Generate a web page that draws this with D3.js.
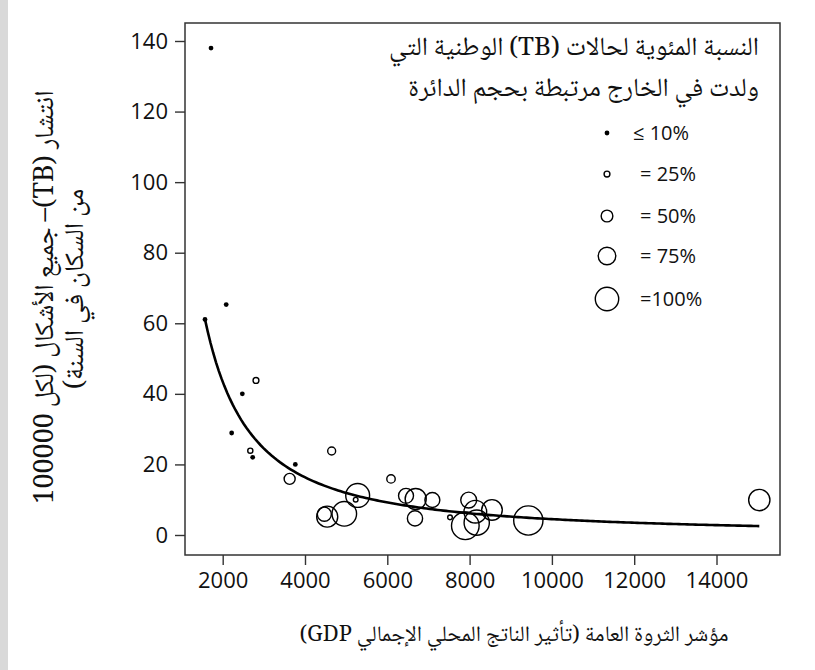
<!DOCTYPE html>
<html>
<head>
<meta charset="utf-8">
<script src="https://cdn.jsdelivr.net/npm/d3@7"></script>
<style>
  html, body { margin: 0; padding: 0; background: #fff; }
  svg { display: block; }
  .num { font-family: "Open Sans", "Noto Sans", "DejaVu Sans", sans-serif; }
  .ar { font-family: "Noto Naskh Arabic", "Noto Sans Arabic", "DejaVu Sans", serif; }
</style>
</head>
<body>
<script>
// GDP per capita, TB prevalence per 100 000, and share of foreign-born cases (%)
const gdp        = [1716, 2085, 1570, 2477, 2218, 2729, 3765, 2809, 2671, 5232, 7524,
                    3627, 4648, 6090, 5280, 4955, 4470, 4540, 6455, 6690, 7095, 6673,
                    7978, 7896, 8139, 8173, 8544, 9427, 15040];
const prevalence = [138, 65.3, 61.1, 40, 28.9, 22, 20, 43.8, 23.9, 10, 5,
                    15.9, 23.8, 15.9, 11.2, 6.0, 5.9, 5.2, 11.1, 10.2, 9.9, 4.7,
                    9.9, 2.6, 6.6, 3.5, 7.1, 4.1, 9.9];
const foreignPct = [5, 5, 5, 5, 5, 5, 5, 25, 22, 20, 20,
                    47, 34, 36, 102, 105, 60, 90, 64, 90, 64, 65,
                    68, 118, 97, 108, 88, 125, 91];

// Fitted power curve: prevalence = fitA * gdp ^ fitB
const fitA = 1.96e6;
const fitB = -1.41;

const xTicks = [2000, 4000, 6000, 8000, 10000, 12000, 14000];
const yTicks = [0, 20, 40, 60, 80, 100, 120, 140];

const legendPct    = [10, 25, 50, 75, 100];
const legendLabels = ["≤ 10%", "= 25%", "= 50%", "= 75%", "=100%"];
const legendTitle  = ["النسبة المئوية لحالات (TB) الوطنية التي",
                      "ولدت في الخارج مرتبطة بحجم الدائرة"];
const xTitle  = "مؤشر الثروة العامة (تأثير الناتج المحلي الإجمالي GDP)";
const yTitle  = ["انتشار (TB)– جميع الأشكال (لكل 100000",
                 "من السكان في السنة)"];

const W = 815, H = 670;
const plot = { left: 185, right: 780, top: 23, bottom: 555 };

const svg = d3.select("body").append("svg")
  .attr("width", W).attr("height", H);

// light grey strip along the left edge
svg.append("rect").attr("x", 0).attr("y", 0).attr("width", 8).attr("height", H)
  .attr("fill", "#d9d9d9");

const x = d3.scaleLinear().domain([1084, 15543]).range([plot.left, plot.right]);
const y = d3.scaleLinear().domain([-5.67, 145.1]).range([plot.bottom, plot.top]);
const r = d3.scaleLinear().domain([0, 100]).range([0, 11.7]);

// axes
const yAxis = svg.append("g").attr("transform", `translate(${plot.left},0)`)
  .call(d3.axisLeft(y).tickValues(yTicks).tickSize(10).tickPadding(7));
const xAxis = svg.append("g").attr("transform", `translate(0,${plot.bottom})`)
  .call(d3.axisBottom(x).tickValues(xTicks).tickFormat(d3.format("d")).tickSize(10).tickPadding(7));
[xAxis, yAxis].forEach(g => {
  g.select(".domain").remove();
  g.selectAll(".tick line").attr("stroke", "#333").attr("stroke-width", 1.4);
  g.selectAll(".tick text").attr("class", "num").attr("font-size", 22).attr("fill", "#111");
});

// plot frame
svg.append("rect")
  .attr("x", plot.left).attr("y", plot.top)
  .attr("width", plot.right - plot.left).attr("height", plot.bottom - plot.top)
  .attr("fill", "none").attr("stroke", "#333").attr("stroke-width", 1.5);

// fitted curve across the GDP range of the data
const [gMin, gMax] = d3.extent(gdp);
const curveX = d3.range(0, 201).map(i => gMin + (gMax - gMin) * i / 200);
svg.append("path")
  .datum(curveX)
  .attr("fill", "none").attr("stroke", "#000").attr("stroke-width", 2.6)
  .attr("d", d3.line().x(d => x(d)).y(d => y(fitA * Math.pow(d, fitB))));

// countries
const pts = gdp.map((g, i) => ({ g, p: prevalence[i], f: foreignPct[i] }));
function drawMark(sel) {
  sel.each(function (d) {
    const el = d3.select(this);
    if (d.f <= 10) {
      el.attr("r", 2.4).attr("fill", "#000").attr("stroke", "none");
    } else {
      el.attr("r", r(d.f)).attr("fill", "none").attr("stroke", "#000").attr("stroke-width", 1.4);
    }
  });
}
svg.append("g").selectAll("circle").data(pts).join("circle")
  .attr("cx", d => x(d.g)).attr("cy", d => y(d.p))
  .call(drawMark);

// legend (rtl text: "start" anchors the right edge)
const lg = svg.append("g");
lg.selectAll("text.title").data(legendTitle).join("text")
  .attr("class", "title ar")
  .attr("x", 759).attr("y", (d, i) => 55 + i * 41)
  .attr("text-anchor", "start").attr("direction", "rtl")
  .attr("font-size", 26).attr("fill", "#111")
  .text(d => d);
const legRowY = [133, 174, 216, 256, 299];
const rows = lg.selectAll("g.row").data(legendPct).join("g")
  .attr("class", "row")
  .attr("transform", (d, i) => `translate(0,${legRowY[i]})`);
rows.append("circle")
  .datum(d => ({ f: d }))
  .attr("cx", 607).attr("cy", 0)
  .call(drawMark);
rows.append("text")
  .attr("class", "num")
  .attr("x", (d, i) => i === 0 ? 633 : 640)
  .attr("y", 0).attr("dy", "0.35em")
  .attr("font-size", 20).attr("fill", "#111")
  .text((d, i) => legendLabels[i]);

// axis titles
svg.append("text").attr("class", "ar")
  .attr("x", 514).attr("y", 641)
  .attr("text-anchor", "middle").attr("direction", "rtl")
  .attr("font-size", 22).attr("fill", "#111")
  .text(xTitle);

svg.selectAll("text.ytitle").data(yTitle).join("text")
  .attr("class", "ytitle ar")
  .attr("transform", (d, i) => `translate(${53 + i * 30},${i === 0 ? 297 : 289}) rotate(-90)`)
  .attr("text-anchor", "middle").attr("direction", "rtl")
  .attr("font-size", 27).attr("fill", "#111")
  .text(d => d);
</script>
</body>
</html>
